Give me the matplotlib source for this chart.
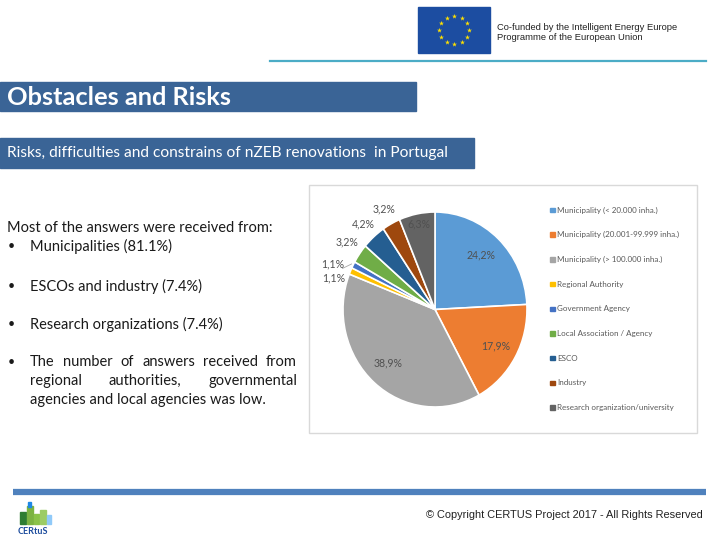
import numpy as np
import matplotlib
matplotlib.use("Agg")
import matplotlib.pyplot as plt
from matplotlib.patches import Rectangle

categories = ["Municipality (< 20.000 inha.)", "Municipality (20.001-99.999 inha.)",
              "Municipality (> 100.000 inha.)", "Regional Authority", "Government Agency",
              "Local Association / Agency", "ESCO", "Industry", "Research organization/university"]
values = [24.2, 17.9, 38.9, 1.1, 1.1, 3.2, 4.2, 3.2, 6.3]
value_labels = ["24,2%", "17,9%", "38,9%", "1,1%", "1,1%", "3,2%", "4,2%", "3,2%", "6,3%"]
colors = ["#5B9BD5", "#ED7D31", "#A5A5A5", "#FFC000", "#4472C4",
          "#70AD47", "#255E91", "#9E480E", "#636363"]
# label placement style: (radius factor, angle offset in degrees)
label_style = [(0.75, 2), (0.76, 0), (0.75, -2), (1.15, 7), (1.21, 4.5),
               (1.18, -1), (1.17, 0), (1.17, 0), (0.9, 0)]

title = "Obstacles and Risks"
subtitle = "Risks, difficulties and constrains of nZEB renovations  in Portugal"
intro = "Most of the answers were received from:"
bullets = ["Municipalities (81.1%)", "ESCOs and industry (7.4%)",
           "Research organizations (7.4%)"]
para_lines = ["The number of answers received from",
              "regional authorities, governmental",
              "agencies and local agencies was low."]

W, H = 720, 540
fig = plt.figure(figsize=(7.2, 5.4), dpi=100)
bg = fig.add_axes([0, 0, 1, 1])
bg.set_xlim(0, W)
bg.set_ylim(H, 0)
bg.axis("off")
renderer = fig.canvas.get_renderer()

FONT = "Lato"
ARIAL = "Liberation Sans"

# header bars
bg.add_patch(Rectangle((0, 82), 416, 29, color="#3A6496", zorder=1))
bg.text(7, 97.5, title, color="white", fontsize=18.3, family=FONT, fontweight="bold",
        va="center", ha="left", zorder=2)
bg.add_patch(Rectangle((0, 138), 474, 30, color="#3A6496", zorder=1))
bg.text(7, 153.5, subtitle, color="white", fontsize=11.15, family=FONT,
        va="center", ha="left", zorder=2)

# EU flag + co-funded text
bg.add_patch(Rectangle((418, 7), 72, 46, color="#1C4DA1", zorder=1))
ang = np.linspace(0, 2 * np.pi, 13)[:-1]
bg.scatter(454 + 15 * np.cos(ang), 30 + 14 * np.sin(ang), marker="*", s=14,
           color="#FFE100", zorder=2, linewidths=0)
bg.text(497, 27, "Co-funded by the Intelligent Energy Europe", fontsize=6.75,
        family=ARIAL, color="#222222", va="center", ha="left")
bg.text(497, 38, "Programme of the European Union", fontsize=6.75,
        family=ARIAL, color="#222222", va="center", ha="left")
bg.plot([270, 706], [61, 61], color="#4BACC6", lw=1.6)

# left text
tc = "#1a1a1a"
FS = 10.5
bg.text(7, 228, intro, fontsize=FS, family=FONT, color=tc, va="center", ha="left")
for y, t in zip([246, 286, 324], bullets):
    bg.text(8, y, "•", fontsize=9, family=FONT, color=tc, va="center", ha="left")
    bg.text(30, y, t, fontsize=FS, family=FONT, color=tc, va="center", ha="left")
bg.text(8, 362, "•", fontsize=9, family=FONT, color=tc, va="center", ha="left")


def justify(line, y, x0, x1):
    words = line.split()
    widths = []
    for w in words:
        t = bg.text(0, 0, w, fontsize=FS, family=FONT)
        bb = t.get_window_extent(renderer)
        widths.append(bb.width)
        t.remove()
    gap = (x1 - x0 - sum(widths)) / (len(words) - 1)
    x = x0
    for w, wd in zip(words, widths):
        bg.text(x, y, w, fontsize=FS, family=FONT, color=tc, va="center", ha="left")
        x += wd + gap


justify(para_lines[0], 362, 30, 297)
justify(para_lines[1], 381, 30, 297)
bg.text(30, 400, para_lines[2], fontsize=FS, family=FONT, color=tc, va="center", ha="left")

# chart frame
bg.add_patch(Rectangle((309, 185), 388, 248, fill=False, edgecolor="#D9D9D9", lw=1, zorder=1))

# footer
bg.plot([13, 706], [492, 492], color="#4F81BD", lw=4.5, solid_capstyle="butt")
bg.text(703, 515, "© Copyright CERTUS Project 2017 - All Rights Reserved", fontsize=7.95,
        family=ARIAL, color="#222222", va="center", ha="right")
# simple CERTUS logo
for (x, y, w, h, c) in [(20, 512, 6, 12, "#2E7D32"), (27, 506, 6, 18, "#7CB342"),
                        (34, 514, 5, 10, "#8BC34A"), (40, 510, 6, 14, "#9CCC65"),
                        (47, 515, 4, 9, "#90CAF9"), (28, 502, 3, 5, "#1E88E5")]:
    bg.add_patch(Rectangle((x, y), w, h, color=c, zorder=2))
bg.text(33, 531, "CERtuS", fontsize=6.5, family=FONT, fontweight="bold", color="#1F4E9E",
        va="center", ha="center")

# pie axes
cx, cy, rx, ry = 435, 309.5, 92, 97.5
lim = 1.3
ax = fig.add_axes([(cx - lim * rx) / W, 1 - (cy + lim * ry) / H,
                   2 * lim * rx / W, 2 * lim * ry / H])
wedges, _ = ax.pie(values, colors=colors, startangle=90, counterclock=False, radius=1,
                   wedgeprops=dict(edgecolor="white", linewidth=1.2))
ax.set_aspect("auto")
ax.set_xlim(-lim, lim)
ax.set_ylim(-lim, lim)
ax.axis("off")
for w, lab, (rf, off) in zip(wedges, value_labels, label_style):
    a = np.deg2rad((w.theta1 + w.theta2) / 2 + off)
    ax.text(rf * np.cos(a), rf * np.sin(a), lab, fontsize=7.6, family=FONT,
            color="#505050", ha="center", va="center")
# leader line for the small blue wedge label
wb = wedges[4]
am = np.deg2rad((wb.theta1 + wb.theta2) / 2)
a2 = np.deg2rad((wb.theta1 + wb.theta2) / 2 + 4.5)
ax.plot([1.02 * np.cos(am), 1.09 * np.cos(a2)], [1.02 * np.sin(am), 1.09 * np.sin(a2)],
        color="#A6A6A6", lw=0.6)

# legend in pixel coords
ly0, ldy = 210, 24.7
for i, (c, lab) in enumerate(zip(colors, categories)):
    y = ly0 + i * ldy
    bg.add_patch(Rectangle((550, y - 2.3), 4.5, 4.5, color=c, zorder=3))
    bg.text(557, y, lab, fontsize=5.8, family=FONT, color="#595959", va="center", ha="left")

fig.savefig("out.png", dpi=100, facecolor="white")
